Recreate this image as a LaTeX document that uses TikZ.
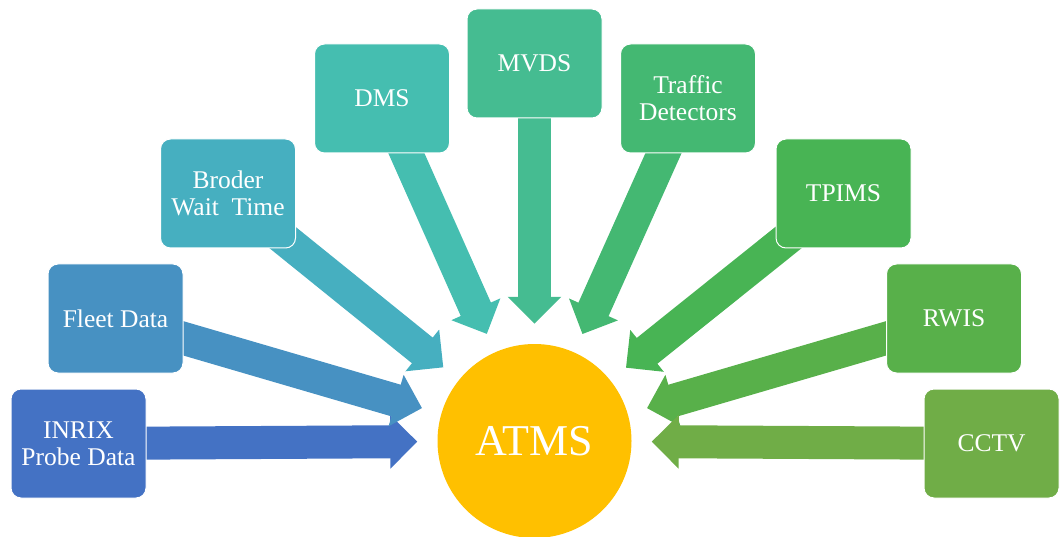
\documentclass[tikz,border=0pt]{standalone}
\usepackage{fontspec}
\setmainfont{Liberation Serif}
\usetikzlibrary{arrows.meta,backgrounds}

\definecolor{cInrix}{HTML}{4472C4}
\definecolor{cFleet}{HTML}{4791C2}
\definecolor{cBroder}{HTML}{46AFC0}
\definecolor{cDms}{HTML}{45BEB0}
\definecolor{cMvds}{HTML}{45BC91}
\definecolor{cTraffic}{HTML}{44B872}
\definecolor{cTpims}{HTML}{48B454}
\definecolor{cRwis}{HTML}{58B04A}
\definecolor{cCctv}{HTML}{70AD47}
\definecolor{cAtms}{HTML}{FFC000}

\begin{document}
\begin{tikzpicture}[x=1pt,y=-1pt,
  src/.style={draw=white,line width=1pt,rounded corners=10pt,minimum width=135pt,minimum height=109pt,
    text=white,align=center,font=\fontsize{25.5}{27}\selectfont},
  feed/.style={line width=33pt,shorten >=20pt,-{Triangle[length=27pt,width=52pt]}}]
\useasboundingbox (0,0) rectangle (1060,537);
% hub
\node[circle,fill=cAtms,minimum size=194pt,inner sep=0pt,text=white,font=\fontsize{44}{44}\selectfont] (atms) at (534.5,441) {ATMS};
% sources, left to right
\node[src,fill=cInrix] (inrix) at (78.5,443.5) {INRIX\\Probe Data};
\node[src,fill=cFleet] (fleet) at (115.5,318.5) {Fleet Data};
\node[src,fill=cBroder] (broder) at (228,193.5) {Broder\\Wait\ \ Time};
\node[src,fill=cDms] (dms) at (382,98.5) {DMS};
\node[src,fill=cMvds] (mvds) at (534.5,63.5) {MVDS};
\node[src,fill=cTraffic] (traffic) at (688,98.5) {Traffic\\Detectors};
\node[src,fill=cTpims] (tpims) at (843.5,193.5) {TPIMS};
\node[src,fill=cRwis] (rwis) at (954,318.5) {RWIS};
\node[src,fill=cCctv] (cctv) at (991.5,443.5) {CCTV};
% block arrows behind the boxes
\begin{scope}[on background layer]
\draw[feed,cInrix] (inrix.center) -- (atms);
\draw[feed,cFleet] (fleet.center) -- (atms);
\draw[feed,cBroder] (broder.center) -- (atms);
\draw[feed,cDms] (dms.center) -- (atms);
\draw[feed,cMvds] (mvds.center) -- (atms);
\draw[feed,cTraffic] (traffic.center) -- (atms);
\draw[feed,cTpims] (tpims.center) -- (atms);
\draw[feed,cRwis] (rwis.center) -- (atms);
\draw[feed,cCctv] (cctv.center) -- (atms);
\end{scope}
\end{tikzpicture}
\end{document}
